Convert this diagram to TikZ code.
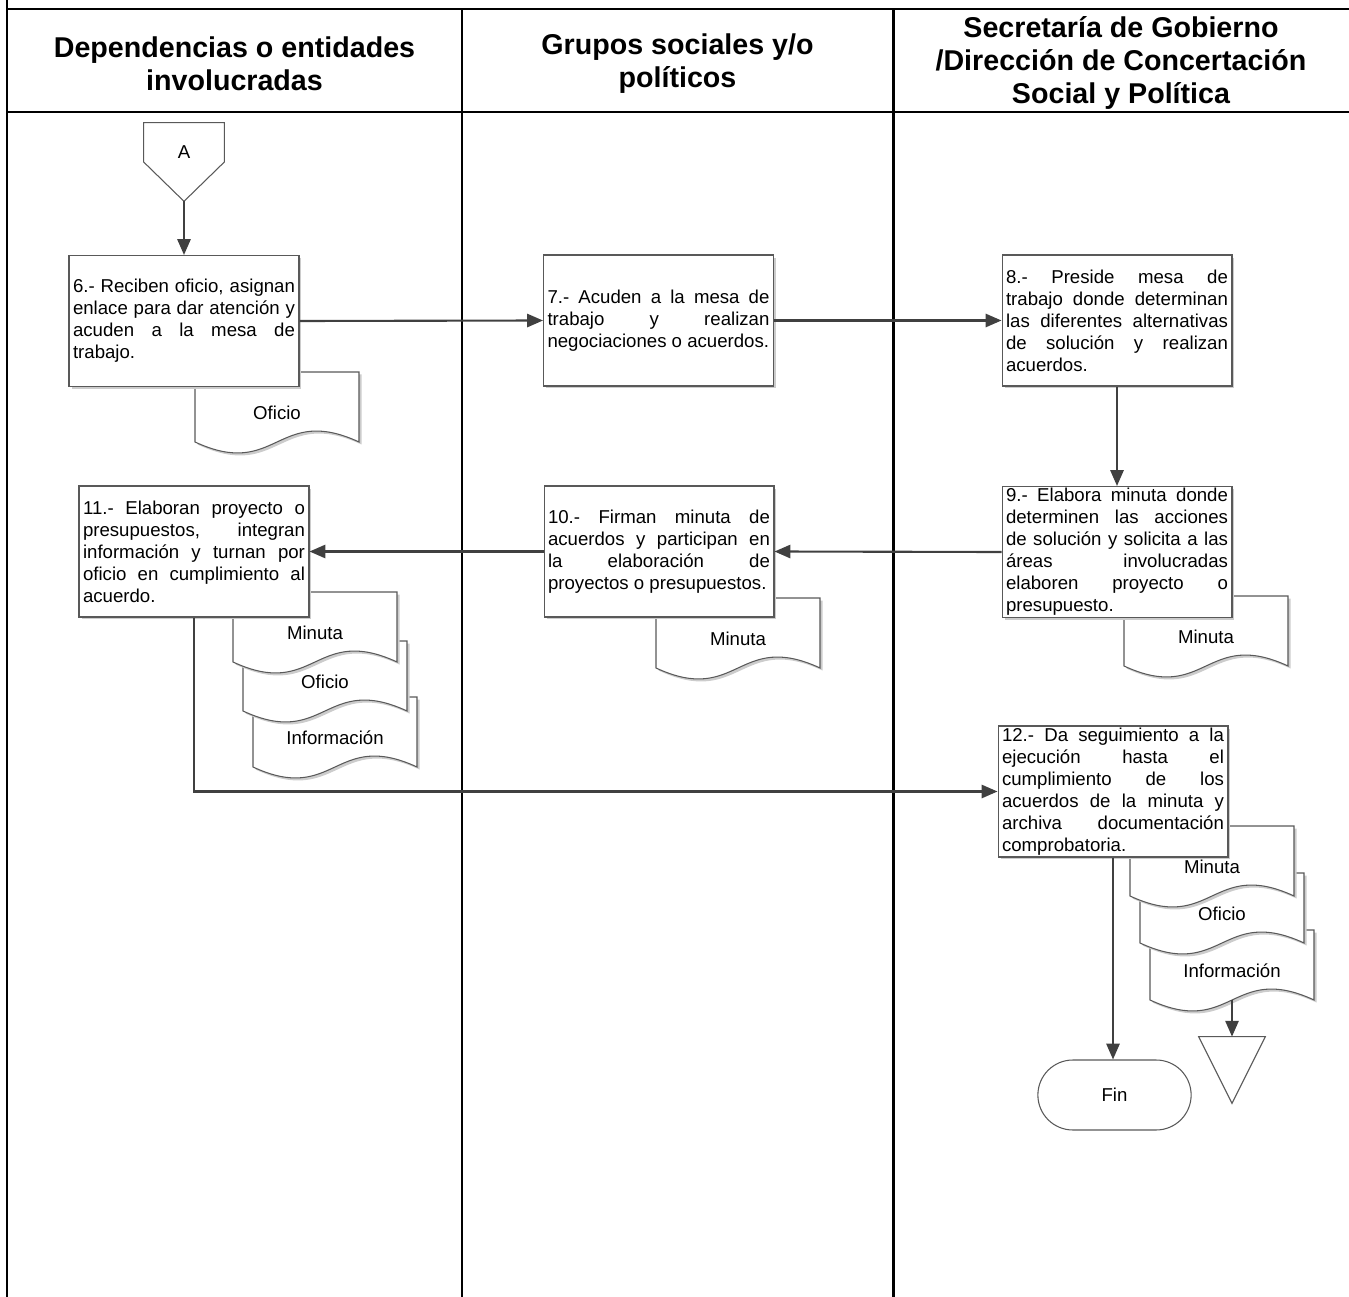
\documentclass[tikz,border=0pt]{standalone}
\usepackage{fontspec}
\setmainfont{Liberation Sans}
\usetikzlibrary{arrows.meta,shadows,shapes.misc}
\tolerance=10000
\hbadness=10000
\hyphenpenalty=10000

\newcommand{\flowdoc}[4]{%
  \fill[black!20,xshift=0.05cm,yshift=-0.05cm] (#2,#3+70) -- (#2,#3) -- (#2+164,#3) -- (#2+164,#3+70) .. controls +(-82,-38) and +(82,38) .. (#2,#3+70) -- cycle;
  \filldraw[docline] (#2,#3+70) -- (#2,#3) -- (#2+164,#3) -- (#2+164,#3+70) .. controls +(-82,-38) and +(82,38) .. (#2,#3+70) -- cycle;
  \node[doctext] (#1) at (#2+82,#3+35) {#4};
}

\begin{document}
\begin{tikzpicture}[x=0.02cm,y=-0.02cm,
  frame/.style={line width=1.7pt},
  head/.style={align=center, font=\fontsize{16.3}{19}\selectfont\bfseries},
  box/.style={draw=black!65, line width=0.6pt, fill=white, text width=4.44cm, align=justify,
    inner xsep=0.08cm, inner ysep=0.02cm, minimum height=2.62cm,
    font=\fontsize{10.6}{12.5}\selectfont,
    drop shadow={shadow xshift=0.05cm, shadow yshift=-0.05cm, fill=black!20, opacity=1}},
  docline/.style={draw=black!65, line width=0.6pt, fill=white},
  doctext/.style={minimum width=3.28cm, minimum height=1.4cm, inner sep=0pt, text height=0.51cm, text depth=0pt,
    font=\fontsize{10.6}{12.5}\selectfont},
  shapeline/.style={draw=black!65, line width=0.6pt, fill=white},
  flow/.style={draw=black!75, line width=1.2pt, -{Triangle[length=9pt,width=7.5pt]}}]
\useasboundingbox (0,0) rectangle (1349,1297);

\draw[frame] (7,0) -- (7,1297);
\draw[frame] (7,9) -- (1349,9);
\draw[frame] (7,112) -- (1349,112);
\draw[frame] (462,9) -- (462,1297);
\draw[frame] (893,9) -- (893,1297);

\node[head] (h1) at (234.5,63.5) {Dependencias o entidades\\involucradas};
\node[head] (h2) at (677.5,63.5) {Grupos sociales y/o\\políticos};
\node[head] (h3) at (1121,63) {Secretaría de Gobierno\\/Dirección de Concertación\\Social y Política};

\node[minimum width=1.6cm, minimum height=1.56cm, inner sep=0pt] (offA) at (184,162) {};
\draw[shapeline] (offA.north west) -- (offA.north east) -- (offA.east) -- (offA.south) -- (offA.west) -- cycle;
\node[font=\fontsize{10.6}{12.5}\selectfont] (labA) at (184,152) {A};

\flowdoc{of6}{195}{372}{Oficio}
\flowdoc{mi9}{1124}{596}{Minuta}
\flowdoc{mi10}{656}{598}{Minuta}
\flowdoc{in11}{253}{697}{Información}
\flowdoc{of11}{243}{641}{Oficio}
\flowdoc{mi11}{233}{592}{Minuta}
\flowdoc{in12}{1150}{930}{Información}
\flowdoc{of12}{1140}{873}{Oficio}
\flowdoc{mi12}{1130}{826}{Minuta}

\node[box] (n6) at (184,321) {6.- Reciben oficio, asignan\linebreak enlace para dar atención y\linebreak acuden a la mesa de\linebreak trabajo.};
\node[box] (n7) at (658.5,320.5) {7.- Acuden a la mesa de\linebreak trabajo y realizan\linebreak negociaciones o acuerdos.};
\node[box] (n8) at (1117,320.5) {8.- Preside mesa de\linebreak trabajo donde determinan\linebreak las diferentes alternativas\linebreak de solución y realizan\linebreak acuerdos.};
\node[box] (n9) at (1117,552) {9.- Elabora minuta donde\linebreak determinen las acciones\linebreak de solución y solicita a las\linebreak áreas involucradas\linebreak elaboren proyecto o\linebreak presupuesto.};
\node[box] (n10) at (659,551.5) {10.- Firman minuta de\linebreak acuerdos y participan en\linebreak la elaboración de\linebreak proyectos o presupuestos.};
\node[box] (n11) at (194,551.5) {11.- Elaboran proyecto o\linebreak presupuestos, integran\linebreak información y turnan por\linebreak oficio en cumplimiento al\linebreak acuerdo.};
\node[box] (n12) at (1113,791.5) {12.- Da seguimiento a la\linebreak ejecución hasta el\linebreak cumplimiento de los\linebreak acuerdos de la minuta y\linebreak archiva documentación\linebreak comprobatoria.};

\node[rounded rectangle, draw=black!65, line width=0.6pt, fill=white, minimum width=3.3cm, minimum height=1.4cm,
  font=\fontsize{10.6}{12.5}\selectfont] (fin) at (1114.5,1095) {Fin};
\node[minimum width=1.32cm, minimum height=1.32cm, inner sep=0pt] (arch) at (1232,1070) {};
\draw[shapeline] (arch.north west) -- (arch.north east) -- (arch.south) -- cycle;

\draw[flow] (offA.south) -- (n6.north);
\draw[flow] (n6.east) -- (n7.west);
\draw[flow] (n7.east) -- (n8.west);
\draw[flow] (n8.south) -- (n9.north);
\draw[flow] (n9.west) -- (n10.east);
\draw[flow] (n10.west) -- (n11.east);
\draw[flow] (n11.south) |- (n12.west);
\draw[flow] (n12.south) -- (n12.south |- fin.north);
\draw[flow] (in12.south) -- (arch.north);
\end{tikzpicture}
\end{document}
